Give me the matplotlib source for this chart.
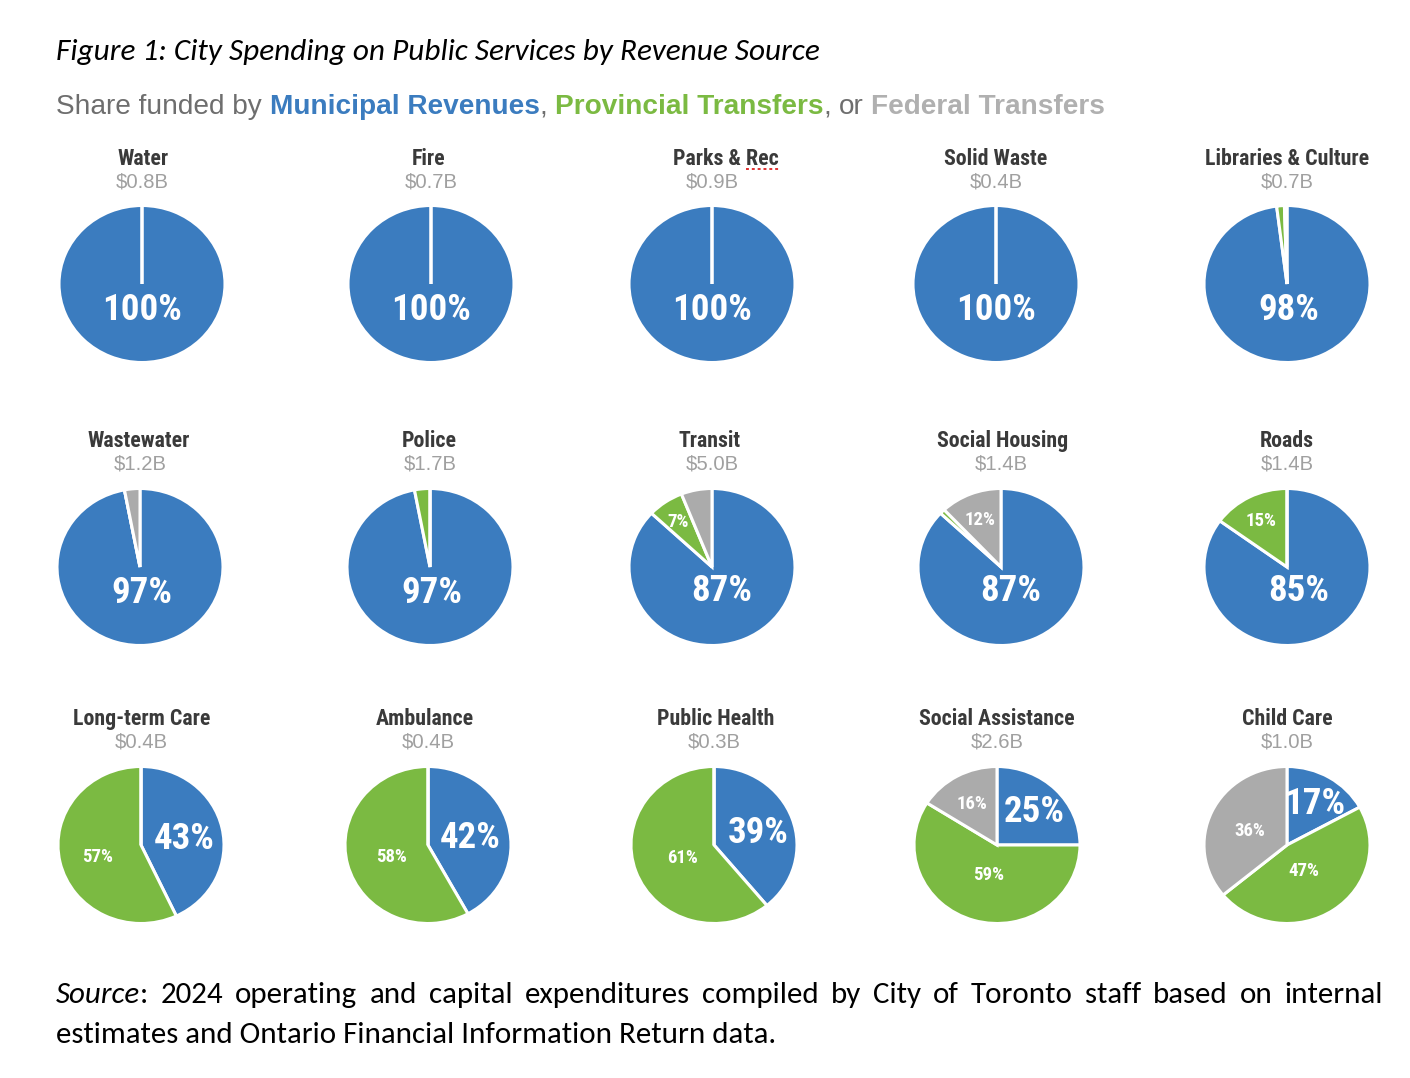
import matplotlib
matplotlib.use("Agg")
import numpy as np
import matplotlib.pyplot as plt
from matplotlib import font_manager

# ---------------- data ----------------
services = ["Water", "Fire", "Parks & Rec", "Solid Waste", "Libraries & Culture",
            "Wastewater", "Police", "Transit", "Social Housing", "Roads",
            "Long-term Care", "Ambulance", "Public Health", "Social Assistance", "Child Care"]
spending_b = [0.8, 0.7, 0.9, 0.4, 0.7,
              1.2, 1.7, 5.0, 1.4, 1.4,
              0.4, 0.4, 0.3, 2.6, 1.0]
municipal = [100, 100, 100, 100, 98,
             97, 97, 87, 87, 85,
             43, 42, 39, 25, 17]
provincial = [0, 0, 0, 0, 1.5,
              0, 3, 7, 1, 15,
              57, 58, 61, 59, 47]
federal = [0, 0, 0, 0, 0.5,
           3, 0, 6, 12, 0,
           0, 0, 0, 16, 36]
sources = ["Municipal Revenues", "Provincial Transfers", "Federal Transfers"]

# ---------------- layout / style ----------------
W, H, DPI = 1410, 1078, 100
BLUE, GREEN, GRAY = "#3B7CBF", "#7BBA42", "#ABABAB"
COLORS = [BLUE, GREEN, GRAY]
pie_cx = [142, 431, 712, 996, 1287,
          140, 430, 712, 1001, 1287,
          141, 428, 714, 997, 1287]
row_cy = [284, 567, 845]
title_y = [159, 441, 719]
value_y = [182, 464, 742]
title_x = [143, 429, 726, 996, 1287,
           139, 429, 710, 1003, 1287,
           142, 425, 716, 997, 1287]
RX, RY = 83, 78.5
LABEL_DY = -0.035
# label distance (fraction of radius) for municipal / provincial / federal slices
mun_dist = [0.3] * 10 + [0.53, 0.52, 0.57, 0.64, 0.65]
prov_dist = [0.5] * 7 + [0.73, 0.5, 0.7, 0.54, 0.45, 0.4, 0.36, 0.36]
fed_dist = [0.5] * 8 + [0.68, 0.5, 0.5, 0.5, 0.5, 0.63, 0.5]

avail = {f.name for f in font_manager.fontManager.ttflist}
COND = next((f for f in ["Liberation Sans Narrow", "DejaVu Sans Condensed",
                         "Roboto Condensed", "Roboto"] if f in avail), "DejaVu Sans")
BODY = next((f for f in ["Carlito", "Lato", "Open Sans"] if f in avail), "DejaVu Sans")
HELV = next((f for f in ["Liberation Sans", "Roboto"] if f in avail), "DejaVu Sans")

fig = plt.figure(figsize=(W / DPI, H / DPI), dpi=DPI)
fig.patch.set_facecolor("white")
renderer = fig.canvas.get_renderer()


def fx(x):
    return x / W


def fy(y):
    return 1 - y / H


def text_w(s, **kw):
    t = fig.text(0, 0, s, **kw)
    w = t.get_window_extent(renderer=renderer).width
    t.remove()
    return w


def fit_size(s, target, **kw):
    w = text_w(s, fontsize=20, **kw)
    return 20 * target / w


# ---------------- headline ----------------
ts = fit_size("Figure 1: City Spending on Public Services by Revenue Source", 762,
              family=BODY, style="italic")
fig.text(fx(56), fy(60), "Figure 1: City Spending on Public Services by Revenue Source",
         family=BODY, style="italic", fontsize=ts, color="black", va="baseline", ha="left")

# ---------------- subtitle (multi-coloured run) ----------------
sub_pieces = [("Share funded by", "#6E6E6E", "normal"),
              (sources[0], BLUE, "bold"),
              (",", "#6E6E6E", "normal"),
              (sources[1], GREEN, "bold"),
              (",", "#6E6E6E", "normal"),
              ("or", "#6E6E6E", "normal"),
              (sources[2], "#B0B0B0", "bold")]
space_after = [True, False, True, False, True, True, False]


def run_width(size):
    sp = text_w("a a", family=HELV, fontsize=size) - text_w("aa", family=HELV, fontsize=size)
    tot = 0
    for (s, c, wt), gap in zip(sub_pieces, space_after):
        tot += text_w(s, family=HELV, fontweight=wt, fontsize=size)
        if gap:
            tot += sp
    return tot, sp


w20, _ = run_width(20)
ss = 20 * (1104 - 56) / w20
_, sp = run_width(ss)
x = 56
for (s, c, wt), gap in zip(sub_pieces, space_after):
    t = fig.text(fx(x), fy(114), s, family=HELV, fontweight=wt, fontsize=ss, color=c,
                 ha="left", va="baseline")
    x += t.get_window_extent(renderer=renderer).width + (sp if gap else 0)

# ---------------- pies ----------------
tsz = fit_size("Social Assistance", 156, family=COND, fontweight="bold")
vsz = fit_size("$0.8B", 53, family=HELV)
big = fit_size("87%", 61, family=COND, fontweight="bold")
small = fit_size("57%", 31, family=COND, fontweight="bold")

for i, name in enumerate(services):
    r = i // 5
    cx, cy = pie_cx[i], row_cy[r]
    ax = fig.add_axes([fx(cx - RX), fy(cy + RY), 2 * RX / W, 2 * RY / H])
    vals = [municipal[i], provincial[i], federal[i]]
    wedges, _ = ax.pie(vals, colors=COLORS, startangle=90, counterclock=False,
                       wedgeprops=dict(edgecolor="white", linewidth=2.2))
    for w in wedges:
        w.set_clip_on(False)
    ax.set_aspect("auto")
    ax.set_xlim(-1, 1)
    ax.set_ylim(-1, 1)
    ax.axis("off")
    dists = [mun_dist[i], prov_dist[i], fed_dist[i]]
    for j, (w, v) in enumerate(zip(wedges, vals)):
        if j == 0 or v >= 7:
            ang = np.deg2rad((w.theta1 + w.theta2) / 2)
            d = dists[j]
            ax.text(d * np.cos(ang), d * np.sin(ang) + LABEL_DY, f"{round(v)}%",
                    ha="center", va="center", color="white", family=COND,
                    fontweight="bold", fontsize=big if j == 0 else small)
    t = fig.text(fx(title_x[i]), fy(title_y[r]), name, family=COND, fontweight="bold",
                 fontsize=tsz, color="#3A3A3A", ha="center", va="center")
    fig.text(fx(cx), fy(value_y[r]), f"${spending_b[i]:.1f}B", family=HELV,
             fontsize=vsz, color="#A0A0A0", ha="center", va="center")
    if name == "Parks & Rec":
        bb = t.get_window_extent(renderer=renderer)
        wr = text_w("Rec", family=COND, fontweight="bold", fontsize=tsz)
        xs = np.linspace(bb.x1 - wr, bb.x1, 8)
        yl = bb.y0 + 1
        fig.lines.append(matplotlib.lines.Line2D(xs / W, np.full_like(xs, yl) / H,
                                                 transform=fig.transFigure, color="#E03030",
                                                 linestyle=(0, (1.5, 1.5)), linewidth=1.4))

# ---------------- source note (justified first line) ----------------
src_size = fit_size("estimates and Ontario Financial Information Return data.", 722, family=BODY)
line1 = "2024 operating and capital expenditures compiled by City of Toronto staff based on internal".split()
w_src = text_w("Source", family=BODY, style="italic", fontsize=src_size)
w_col = text_w(":", family=BODY, fontsize=src_size)
widths = [text_w(wd, family=BODY, fontsize=src_size) for wd in line1]
total = w_src + w_col + sum(widths)
gap = (1383 - 56 - total) / len(line1)
fig.text(fx(56), fy(1003), "Source", family=BODY, style="italic", fontsize=src_size,
         color="black", ha="left", va="baseline")
fig.text(fx(56 + w_src), fy(1003), ":", family=BODY, fontsize=src_size,
         color="black", ha="left", va="baseline")
x = 56 + w_src + w_col + gap
for wd, ww in zip(line1, widths):
    fig.text(fx(x), fy(1003), wd, family=BODY, fontsize=src_size, color="black",
             ha="left", va="baseline")
    x += ww + gap
fig.text(fx(56), fy(1043), "estimates and Ontario Financial Information Return data.",
         family=BODY, fontsize=src_size, color="black", ha="left", va="baseline")

fig.savefig("out.png", dpi=DPI, facecolor="white")
